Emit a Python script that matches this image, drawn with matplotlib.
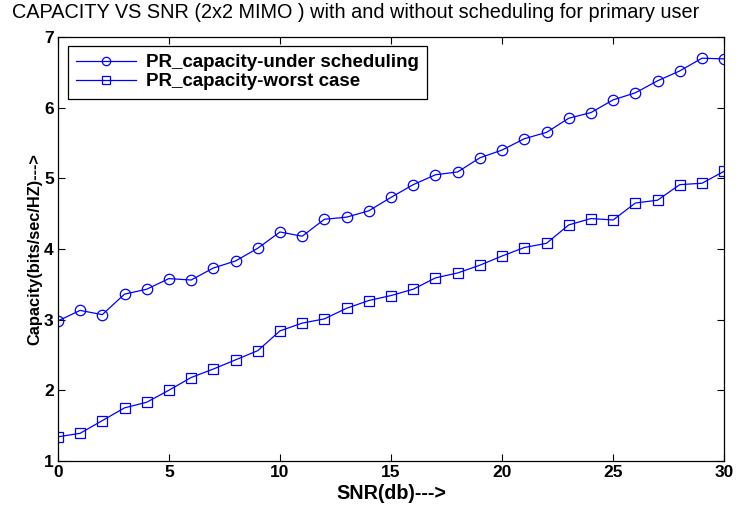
import matplotlib
matplotlib.use("Agg")
import matplotlib.pyplot as plt
import numpy as np

snr_db = np.arange(0, 31)
cap_scheduling = [2.98, 3.13, 3.07, 3.36, 3.43, 3.58, 3.56, 3.73, 3.83, 4.01,
                  4.24, 4.18, 4.42, 4.45, 4.54, 4.73, 4.91, 5.05, 5.09, 5.29,
                  5.40, 5.56, 5.65, 5.85, 5.93, 6.11, 6.21, 6.38, 6.52, 6.70,
                  6.69]
cap_worst = [1.34, 1.39, 1.57, 1.75, 1.83, 2.00, 2.18, 2.30, 2.43, 2.56,
             2.84, 2.95, 3.01, 3.16, 3.27, 3.34, 3.43, 3.59, 3.66, 3.77,
             3.90, 4.02, 4.08, 4.34, 4.43, 4.41, 4.65, 4.69, 4.91, 4.93,
             5.10]

plt.rcParams["font.family"] = ["Liberation Sans", "DejaVu Sans"]

fig = plt.figure(figsize=(7.42, 5.07), dpi=100)
ax = fig.add_axes([0.078, 0.091, 0.898, 0.836])

ax.plot(snr_db, cap_scheduling, "-o", color="#0000ff", lw=0.9, ms=7.5,
        mfc="none", mec="#0000ff", mew=0.9,
        label="PR_capacity-under scheduling")
ax.plot(snr_db, cap_worst, "-s", color="#0000ff", lw=0.9, ms=6.5,
        mfc="none", mec="#0000ff", mew=0.9,
        label="PR_capacity-worst case")

ax.set_xlim(0, 30)
ax.set_ylim(1, 7)
ax.set_xticks(range(0, 31, 5))
ax.set_yticks(range(1, 8))
ax.tick_params(direction="in", top=True, right=True, length=5, width=0.8,
               labelsize=12.5, pad=3)
for lab in ax.get_xticklabels() + ax.get_yticklabels():
    lab.set_fontweight("bold")
for s in ax.spines.values():
    s.set_linewidth(0.9)

ax.set_xlabel("SNR(db)--->", fontsize=14.2, fontweight="bold", labelpad=3)
ax.set_ylabel("Capacity(bits/sec/HZ)--->", fontsize=11.8, fontweight="bold",
              labelpad=1)
fig.text(12 / 742, 1 - 12 / 507,
         "CAPACITY VS SNR (2x2 MIMO ) with and without scheduling for primary user",
         fontsize=14.3, ha="left", va="center")

leg = ax.legend(loc="upper left", bbox_to_anchor=(0.015, 0.979),
                prop={"weight": "bold", "size": 13.5}, fancybox=False,
                edgecolor="black", framealpha=1, borderpad=0.45,
                labelspacing=0.08, handlelength=3.2, handletextpad=0.5,
                borderaxespad=0.0, markerscale=0.8)
leg.get_frame().set_linewidth(0.9)

fig.savefig("out.png", dpi=100)
